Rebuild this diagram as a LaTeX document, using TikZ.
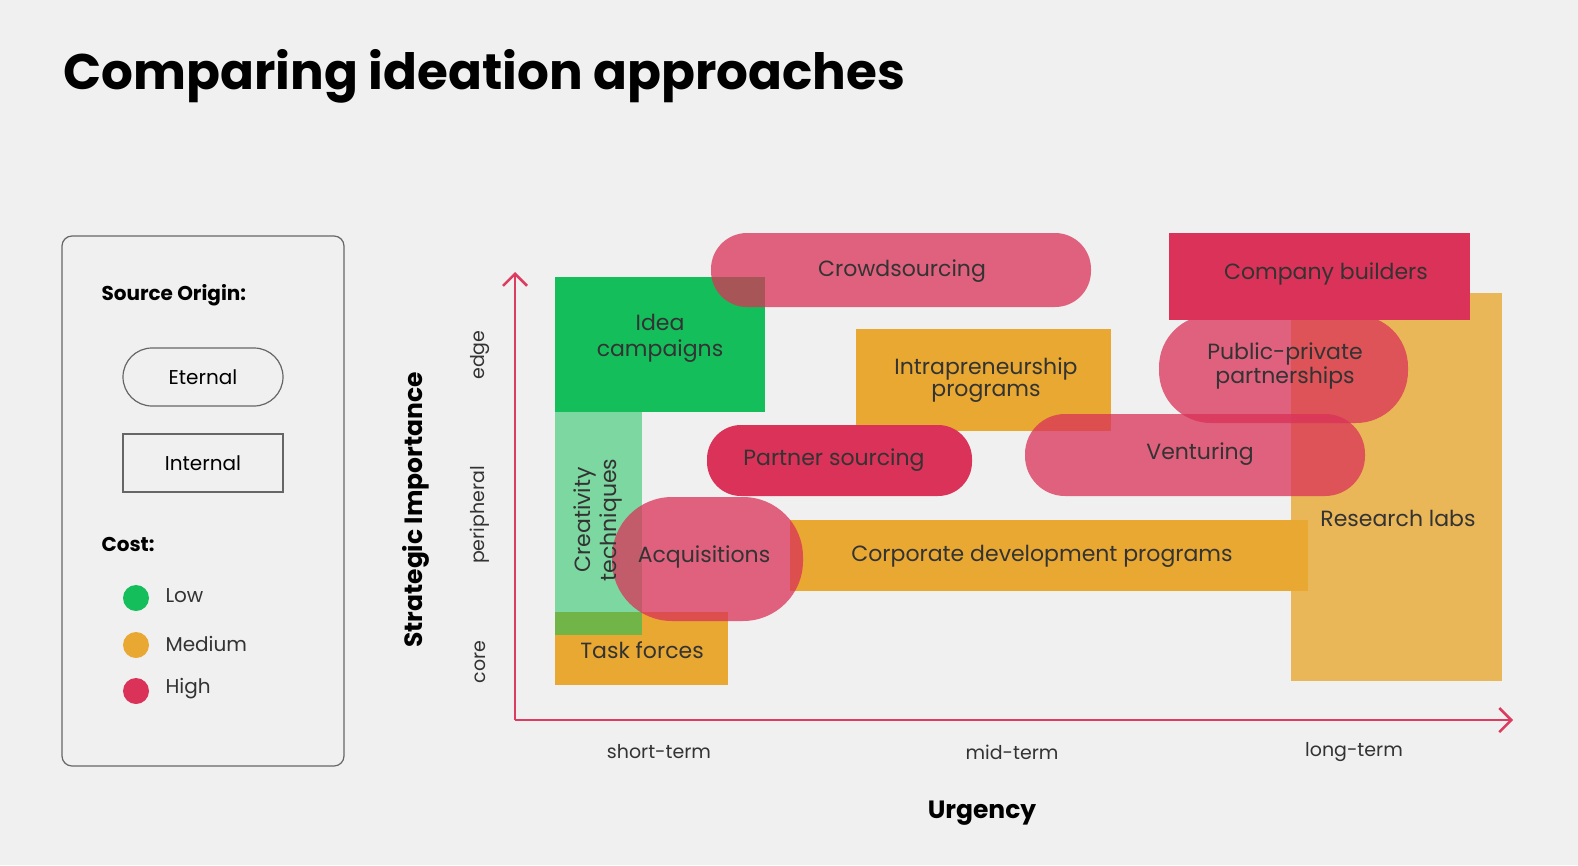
\documentclass[tikz,border=0pt]{standalone}
\usepackage{fontspec}
\setmainfont{Poppins}
\usetikzlibrary{arrows.meta}
\definecolor{bg}{RGB}{240,240,240}
\definecolor{grn}{RGB}{20,190,90}
\definecolor{lgrn}{RGB}{125,215,160}
\definecolor{org}{RGB}{232,168,50}
\definecolor{rd}{RGB}{218,50,88}
\definecolor{ax}{RGB}{220,60,95}
\begin{document}
\begin{tikzpicture}[x=1pt,y=-1pt,
  lab/.style={font=\fontsize{22}{22}\selectfont,text=black!80,align=center,inner sep=0},
  tick/.style={font=\fontsize{19}{19}\selectfont,text=black!80},
  pill/.style={fill=rd,fill opacity=0.75,rounded corners=36pt},
  leg/.style={font=\fontsize{20}{20}\selectfont,text=black!80,anchor=west}]
\fill[bg] (0,0) rectangle (1578,865);
\useasboundingbox (0,0) rectangle (1578,865);
\node[anchor=west,font=\fontsize{50}{50}\selectfont\bfseries] (title) at (60,76) {Comparing ideation approaches};
% legend
\draw[black!60,line width=1.2pt,rounded corners=10pt] (62,236) rectangle (344,766);
\node[leg,font=\fontsize{20}{20}\selectfont\bfseries,text=black] (so) at (98,295) {Source Origin:};
\node[draw=black!60,line width=1.2pt,rounded corners=29pt,minimum width=160pt,minimum height=58pt,font=\fontsize{20}{20}\selectfont] (et) at (203,377) {Eternal};
\node[draw=black!60,line width=1.2pt,minimum width=160pt,minimum height=58pt,font=\fontsize{20}{20}\selectfont] (in) at (203,463) {Internal};
\node[leg,font=\fontsize{20}{20}\selectfont\bfseries,text=black] (cost) at (98,544) {Cost:};
\fill[grn] (136,598) circle (13);
\node[leg] (lo) at (162,596) {Low};
\fill[org] (136,645) circle (13);
\node[leg] (me) at (162,644) {Medium};
\fill[rd] (136,691) circle (13);
\node[leg] (hi) at (162,689) {High};
% axes
\coordinate (o) at (515,720);
\coordinate (yt) at (515,272);
\coordinate (xt) at (1513,720);
\draw[ax,line width=2.5pt,-{Straight Barb[length=12pt,width=24pt]}] (o) -- (yt);
\draw[ax,line width=2.5pt,-{Straight Barb[length=12pt,width=24pt]}] (o) -- (xt);
\node[rotate=90,font=\fontsize{25}{25}\selectfont\bfseries] (si) at (416,510) {Strategic Importance};
\node[font=\fontsize{25}{25}\selectfont\bfseries] (ur) at (982,813) {Urgency};
\node[tick,rotate=90] at (480,355) {edge};
\node[tick,rotate=90] at (480,515) {peripheral};
\node[tick,rotate=90] at (480,662) {core};
\node[tick] at (659,752) {short-term};
\node[tick] at (1012,752) {mid-term};
\node[tick] at (1354,752) {long-term};
% boxes
\fill[grn] (555,277) rectangle (765,412);
\fill[lgrn] (555,412) rectangle (642,635);
\fill[org] (555,612) rectangle (728,685);
\fill[grn!70!org,opacity=0.8] (555,612) rectangle (642,635);
\fill[org] (856,329) rectangle (1111,431);
\fill[org] (790,520) rectangle (1308,591);
\fill[org,fill opacity=0.8] (1291,293) rectangle (1502,681);
\fill[rd] (1169,233) rectangle (1470,320);
\fill[pill] (711,233) rectangle (1091,307);
\fill[pill,rounded corners=52pt] (1159,315) rectangle (1408,423);
\fill[rd,rounded corners=34pt] (707,425) rectangle (972,496);
\fill[pill,rounded corners=40pt] (1025,414) rectangle (1365,496);
\fill[pill,rounded corners=60pt] (612,497) rectangle (803,621);
% labels
\node[lab] (ic) at (660,338) {Idea\\[4pt]campaigns};
\node[lab,rotate=90] (ct) at (598,520) {Creativity\\[2pt]techniques};
\node[lab] (tf) at (642,650) {Task forces};
\node[lab] (cs) at (902,271) {Crowdsourcing};
\node[lab] (ip) at (986,380) {Intrapreneurship\\programs};
\node[lab] (cb) at (1326,274) {Company builders};
\node[lab] (pp) at (1285,366) {Public-private\\partnerships};
\node[lab] (ps) at (834,460) {Partner sourcing};
\node[lab] (ve) at (1200,454) {Venturing};
\node[lab] (rl) at (1398,518) {Research labs};
\node[lab] (aq) at (704,557) {Acquisitions};
\node[lab] (cd) at (1042,556) {Corporate development programs};
\end{tikzpicture}
\end{document}
